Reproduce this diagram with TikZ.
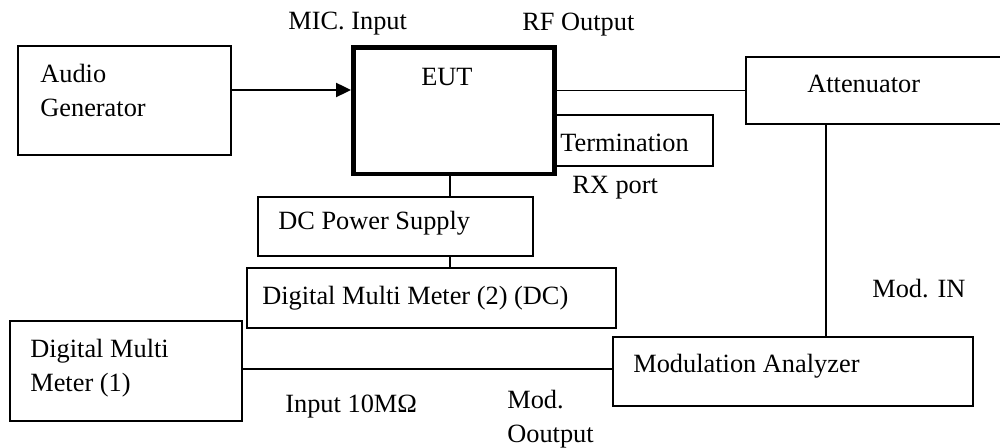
\documentclass[tikz,border=0pt]{standalone}
\usepackage{fontspec}
\setmainfont{Liberation Serif}
\usetikzlibrary{arrows.meta, fit}

\begin{document}
\begin{tikzpicture}[x=0.02cm, y=-0.02cm,
    box/.style={draw, line width=1pt, inner sep=0pt},
    wire/.style={line width=1pt},
    txt/.style={anchor=base west, inner sep=0pt, align=left},
    font=\fontsize{15}{19.5}\selectfont]
    \useasboundingbox (0,0) rectangle (1000,448);
    % units
    \node[box, fit={(18,46) (231,155)}] (gen) {};
    \node[box, line width=2.8pt, fit={(353.5,47.5) (554.5,174)}] (eut) {};
    \node[box, fit={(746,57) (1010,124)}] (att) {};
    \node[box, fit={(555,115) (713,166)}] (term) {};
    \node[box, fit={(258,197) (533,256)}] (dc) {};
    \node[box, fit={(247,268) (616,328)}] (dmm2) {};
    \node[box, fit={(10,321) (242,421)}] (dmm1) {};
    \node[box, fit={(613,337) (973,406)}] (mod) {};
    % texts (base = last line)
    \node[txt] at (40,117) {Audio\\Generator};
    \node[txt] at (421,86) {EUT};
    \node[txt] at (807,93) {Attenuator};
    \node[txt] at (560,152) {Termination};
    \node[txt] at (278,230) {DC Power Supply};
    \node[txt] at (262,305) {Digital Multi Meter (2) (DC)};
    \node[txt] at (30,392) {Digital Multi\\Meter (1)};
    \node[txt] at (633,373) {Modulation Analyzer};
    \node[txt] at (288,30) {MIC. Input};
    \node[txt] at (522,31) {RF Output};
    \node[txt] at (572,194) {RX port};
    \node[txt] at (285,413) {Input 10MΩ};
    \node[txt] at (507,443) {Mod.\\Ooutput};
    \node[txt] at (872,298) {Mod. IN};
    % connections
    \draw[wire, -{Triangle[length=8.5pt,width=8pt]}] (gen.east |- 0,90) -- (eut.west |- 0,90);
    \draw[wire] (eut.east |- att.west) -- (att.west);
    \draw[wire] (eut.south -| 450,0) -- (dc.north -| 450,0);
    \draw[wire] (dc.south -| 450,0) -- (dmm2.north -| 450,0);
    \draw[wire] (att.south -| 826,0) -- (mod.north -| 826,0);
    \draw[wire] (dmm1.east |- 0,369) -- (mod.west |- 0,369);
\end{tikzpicture}
\end{document}
